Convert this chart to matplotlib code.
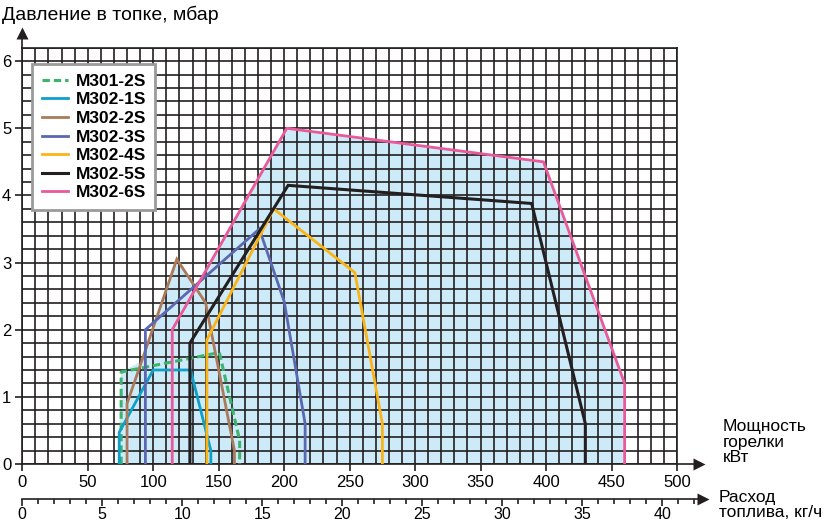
import numpy as np
import matplotlib
matplotlib.use('Agg')
import matplotlib.pyplot as plt
from matplotlib.ticker import MultipleLocator

plt.rcParams['font.family'] = ['Liberation Sans', 'DejaVu Sans']

# burner power, kW / furnace pressure, mbar
names = ['M301-2S', 'M302-1S', 'M302-2S', 'M302-3S', 'M302-4S', 'M302-5S', 'M302-6S']
kw_m301_2s = [75.5, 75.5, 150.5, 166, 166]
mb_m301_2s = [0, 1.37, 1.66, 0.35, 0]
kw_m302_1s = [74, 74, 100, 128.5, 144, 144]
mb_m302_1s = [0, 0.47, 1.4, 1.4, 0.2, 0]
kw_m302_2s = [80, 80, 118, 140, 162, 162]
mb_m302_2s = [0, 0.9, 3.05, 2.4, 0.2, 0]
kw_m302_3s = [94, 94, 181, 200, 216, 216]
mb_m302_3s = [0, 2.0, 3.5, 2.42, 0.6, 0]
kw_m302_4s = [141, 141, 192, 254, 275, 275]
mb_m302_4s = [0, 1.85, 3.8, 2.85, 0.6, 0]
kw_m302_5s = [128, 128, 203, 389, 430, 430]
mb_m302_5s = [0, 1.8, 4.15, 3.88, 0.6, 0]
kw_m302_6s = [114.5, 114.5, 202, 398, 460, 460]
mb_m302_6s = [0, 2.0, 5.0, 4.5, 1.2, 0]

# shaded working field (outer envelope)
env_kw = [74, 74, 75.5, 91, 118, 132, 202, 398, 460, 460]
env_mb = [0, 0.47, 1.37, 1.53, 3.05, 2.63, 5.0, 4.5, 1.2, 0]

x_ticks = [0, 50, 100, 150, 200, 250, 300, 350, 400, 450, 500]
y_ticks = [0, 1, 2, 3, 4, 5, 6]
kg_ticks = [0, 5, 10, 15, 20, 25, 30, 35, 40]

W, H = 831, 522
fig = plt.figure(figsize=(W / 100, H / 100), dpi=100)
x0, x500 = 22.3, 677.0
y0, ytop = 464.0, 47.7
ax = fig.add_axes([x0 / W, 1 - y0 / H, (x500 - x0) / W, (y0 - ytop) / H])
ax.set_xlim(0, 500)
ax.set_ylim(0, 6.2)

ink = '#231f20'
ax.fill(env_kw, env_mb, color='#cdeaf9', zorder=0.2, lw=0)

ax.xaxis.set_major_locator(MultipleLocator(50))
ax.xaxis.set_minor_locator(MultipleLocator(10))
ax.yaxis.set_major_locator(MultipleLocator(1))
ax.yaxis.set_minor_locator(MultipleLocator(0.2))
ax.set_xticks(x_ticks)
ax.set_yticks(y_ticks)
ax.set_axisbelow('line')
ax.grid(which='both', color=ink, lw=1.2)
ax.tick_params(which='major', length=5, width=1.2, color=ink, labelsize=12, pad=3)
ax.tick_params(which='minor', length=0)
for s in ax.spines.values():
    s.set_color(ink)
    s.set_linewidth(1.2)

styles = [
    dict(color='#3db36b', ls=(0, (2.4, 1.3)), lw=2.2),
    dict(color='#0fa0c8', lw=2.0),
    dict(color='#a97b5a', lw=2.0),
    dict(color='#5a68b0', lw=2.0),
    dict(color='#fbb416', lw=2.0),
    dict(color=ink, lw=2.2),
    dict(color='#ea5a9a', lw=2.0),
]
series = [(kw_m301_2s, mb_m301_2s), (kw_m302_1s, mb_m302_1s), (kw_m302_2s, mb_m302_2s),
          (kw_m302_3s, mb_m302_3s), (kw_m302_4s, mb_m302_4s), (kw_m302_5s, mb_m302_5s),
          (kw_m302_6s, mb_m302_6s)]
for name, (xs, ys), st in zip(names, series, styles):
    ax.plot(xs, ys, label=name, zorder=3, solid_joinstyle='miter', **st)

leg = ax.legend(loc='upper left', bbox_to_anchor=(32 / W, 1 - 64 / H),
                bbox_transform=fig.transFigure, borderaxespad=0, fancybox=False,
                framealpha=1, edgecolor='#9a9a9a', handlelength=1.5, handletextpad=0.45,
                labelspacing=0.2, borderpad=0.55, prop=dict(size=12.5, weight='bold'))
leg.get_frame().set_linewidth(2)
leg.set_zorder(5)

# axis arrows
ax.plot([0, 0], [6.2, 6.36], color=ink, lw=1.2, clip_on=False)
ax.plot([0], [6.42], marker='^', ms=8, color=ink, clip_on=False, mec='none')
ax.plot([500, 514], [0, 0], color=ink, lw=1.2, clip_on=False)
ax.plot([517], [0], marker='>', ms=8, color=ink, clip_on=False, mec='none')

# fuel flow axis, kg/h
kg_end = (700 - x0) / 16.0
ax2 = fig.add_axes([x0 / W, 1 - 499 / H, (700 - x0) / W, 0.0001])
ax2.set_xlim(0, kg_end)
ax2.set_ylim(0, 1)
for k in ['left', 'right', 'top']:
    ax2.spines[k].set_visible(False)
ax2.spines['bottom'].set_color(ink)
ax2.spines['bottom'].set_linewidth(1.2)
ax2.set_yticks([])
ax2.set_xticks(kg_ticks)
ax2.xaxis.set_minor_locator(MultipleLocator(1))
ax2.tick_params(which='major', length=5, width=1.2, color=ink, labelsize=11.5, pad=1)
ax2.tick_params(which='minor', length=3.5, width=1.2, color=ink)
ax2.plot([kg_end + 0.2], [0], marker='>', ms=8, color=ink, clip_on=False, mec='none')

fig.text(2 / W, 1 - 15 / H, 'Давление в топке, мбар', fontsize=14, va='center', ha='left')
fig.text(723 / W, 1 - 442 / H, 'Мощность\nгорелки\nкВт', fontsize=12.5, va='center',
         ha='left', linespacing=1.0)
fig.text(719 / W, 1 - 505 / H, 'Расход\nтоплива, кг/ч', fontsize=12.5, va='center',
         ha='left', linespacing=1.0)

fig.savefig('out.png', dpi=100)
